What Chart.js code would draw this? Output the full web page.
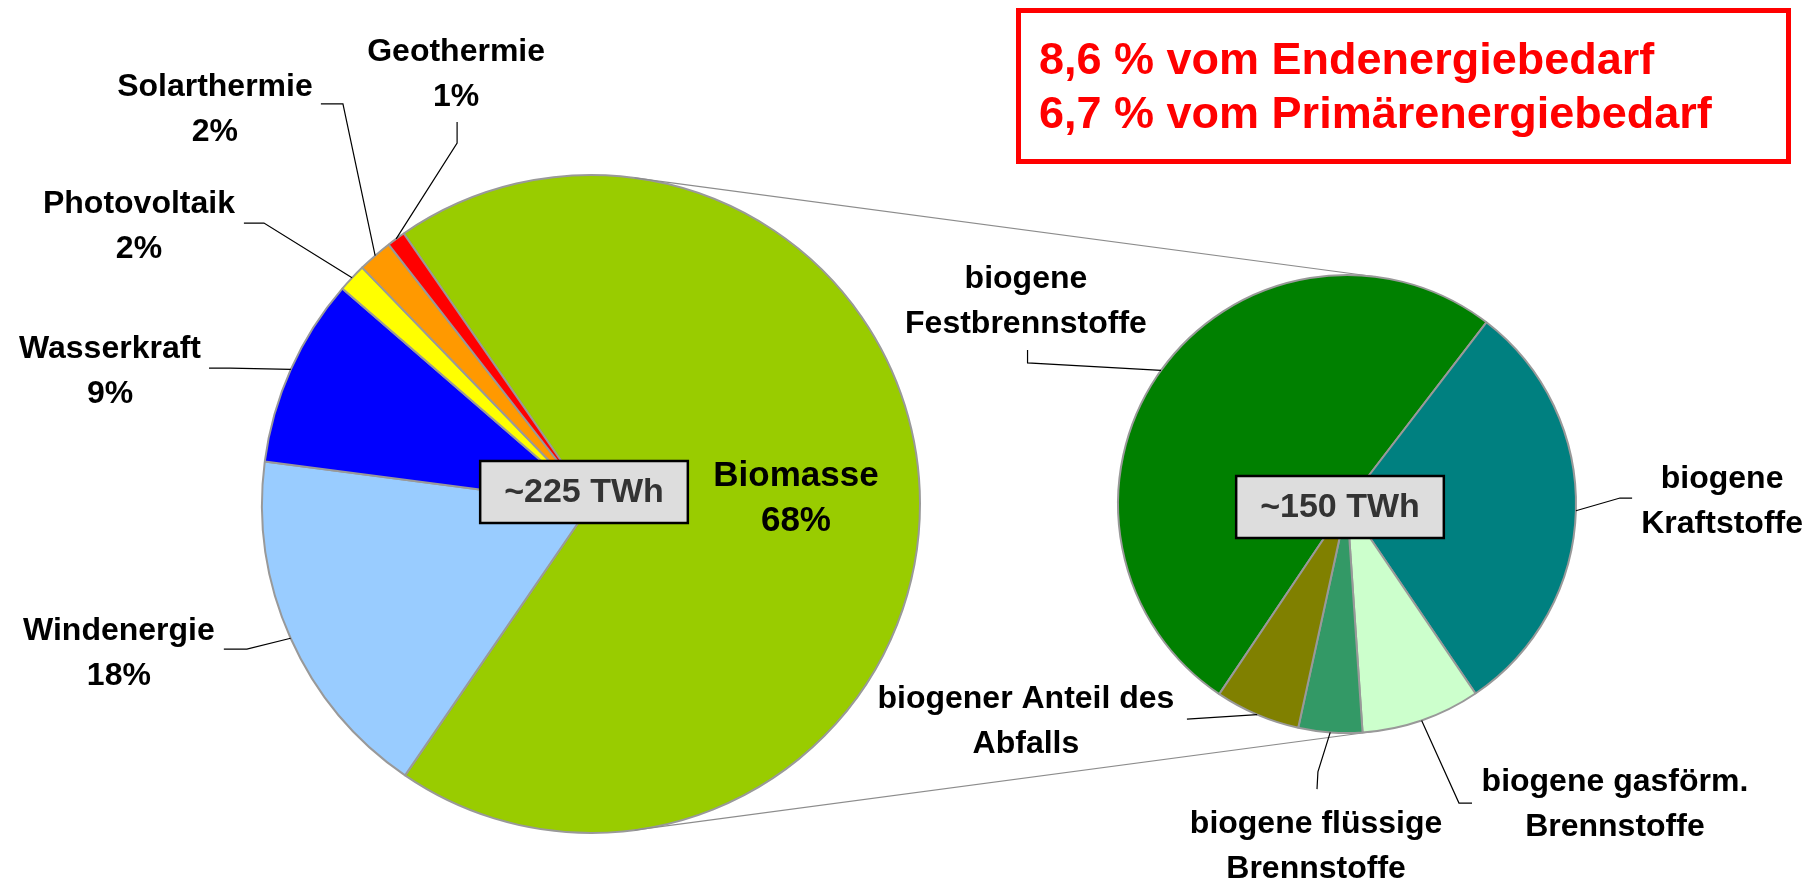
<!DOCTYPE html>
<html>
<head>
<meta charset="utf-8">
<script src="https://cdn.jsdelivr.net/npm/chart.js@4.4.1/dist/chart.umd.min.js"></script>
<style>
  html, body { margin: 0; padding: 0; background: #fff; }
  #wrap { position: relative; width: 1820px; height: 880px; overflow: hidden; background: #fff; }
  #wrap canvas { position: absolute; left: 0; top: 0; }
  #hinweis {
    position: absolute; left: 1016px; top: 8px; width: 775px; height: 156px;
    box-sizing: border-box; border: 5px solid #ff0000; padding: 19px 0 0 18px;
    color: #ff0000; font: bold 45px/54px "Liberation Sans", Arial, sans-serif; white-space: nowrap;
  }
</style>
</head>
<body>
<div id="wrap">
  <canvas id="gesamt" width="1820" height="880"></canvas>
  <canvas id="bio" width="1820" height="880"></canvas>
  <div id="hinweis">8,6 % vom Endenergiebedarf<br>6,7 % vom Primärenergiebedarf</div>
</div>
<script>
// Erneuerbare Energien gesamt (Anteile in %)
const quellen = ['Biomasse', 'Windenergie', 'Wasserkraft', 'Photovoltaik', 'Solarthermie', 'Geothermie'];
const quellenWerte = [69.2, 17.5, 9.3, 1.4, 1.7, 0.9];
const quellenProzent = ['68%', '18%', '9%', '2%', '2%', '1%'];
const quellenFarben = ['#99cc00', '#99ccff', '#0000ff', '#ffff00', '#ff9900', '#ff0000'];
const gesamtText = '~225 TWh';

// Aufteilung der Biomasse (Anteile in %)
const biomasse = [['biogene', 'Festbrennstoffe'], ['biogene', 'Kraftstoffe'], ['biogene gasförm.', 'Brennstoffe'],
                  ['biogene flüssige', 'Brennstoffe'], ['biogener Anteil des', 'Abfalls']];
const biomasseWerte = [51, 30.1, 8.4, 4.5, 6];
const biomasseFarben = ['#008000', '#008080', '#ccffcc', '#339966', '#808000'];
const biomasseText = '~150 TWh';

// Lage der Beschriftungen, in Radien relativ zur Tortenmitte
const platz = {
  gesamt: {
    box: [-7, -12],
    labels: [
      { text: [0.623, -0.016], size: 35 },
      { text: [-1.435, 0.456], elbow: [-1.046, 0.441], end: [-1.116, 0.441] },
      { text: [-1.462, -0.401], elbow: [-1.097, -0.413], end: [-1.161, -0.413] },
      { text: [-1.374, -0.842], elbow: [-0.994, -0.854], end: [-1.055, -0.854] },
      { text: [-1.143, -1.198], elbow: [-0.754, -1.216], end: [-0.821, -1.216] },
      { text: [-0.410, -1.304], elbow: [-0.407, -1.097], end: [-0.407, -1.161] }
    ]
  },
  bio: {
    box: [-7, 3],
    labels: [
      { text: [-1.402, -0.885], elbow: [-1.395, -0.616], end: [-1.395, -0.672] },
      { text: [1.638, -0.011], elbow: [1.192, -0.026], end: [1.245, -0.026] },
      { text: [1.170, 1.312], elbow: [0.489, 1.306], end: [0.546, 1.306] },
      { text: [-0.135, 1.495], elbow: [-0.127, 1.170], end: [-0.131, 1.245] },
      { text: [-1.402, 0.949], elbow: [-0.699, 0.939], end: [-0.699, 0.939] }
    ]
  }
};

const schrift = '"Liberation Sans", Arial, sans-serif';

// Beschriftungen, Führungslinien und TWh-Kasten
const beschriftung = {
  id: 'beschriftung',
  afterDatasetsDraw(chart) {
    const ctx = chart.ctx;
    const lage = platz[chart.canvas.id];
    const arcs = chart.getDatasetMeta(0).data;
    const texte = chart.canvas.id === 'gesamt'
      ? quellen.map((q, i) => [q, quellenProzent[i]])
      : biomasse;
    let cx = 0, cy = 0;
    arcs.forEach((arc, i) => {
      const p = lage.labels[i];
      const r = arc.outerRadius;
      cx = arc.x; cy = arc.y;
      const mitte = (arc.startAngle + arc.endAngle) / 2;
      ctx.save();
      if (p.elbow) {
        ctx.strokeStyle = '#000';
        ctx.lineWidth = 1.2;
        ctx.beginPath();
        ctx.moveTo(cx + r * Math.cos(mitte), cy + r * Math.sin(mitte));
        ctx.lineTo(cx + r * p.elbow[0], cy + r * p.elbow[1]);
        ctx.lineTo(cx + r * p.end[0], cy + r * p.end[1]);
        ctx.stroke();
      }
      ctx.font = 'bold ' + (p.size || 32) + 'px ' + schrift;
      ctx.fillStyle = '#000';
      ctx.textAlign = 'center';
      ctx.textBaseline = 'middle';
      const zeilen = texte[i];
      const tx = cx + r * p.text[0], ty = cy + r * p.text[1];
      zeilen.forEach((t, k) => ctx.fillText(t, tx, ty + (k - (zeilen.length - 1) / 2) * 45));
      ctx.restore();
    });

    // Kasten in der Mitte
    const txt = chart.canvas.id === 'gesamt' ? gesamtText : biomasseText;
    ctx.save();
    ctx.font = 'bold 34px ' + schrift;
    const w = ctx.measureText(txt).width + 48, h = 62;
    const bx = cx + lage.box[0] - w / 2, by = cy + lage.box[1] - h / 2;
    ctx.fillStyle = '#dddddd';
    ctx.fillRect(bx, by, w, h);
    ctx.strokeStyle = '#000';
    ctx.lineWidth = 2.5;
    ctx.strokeRect(bx, by, w, h);
    ctx.fillStyle = '#333333';
    ctx.textAlign = 'center';
    ctx.textBaseline = 'middle';
    ctx.fillText(txt, bx + w / 2, by + h / 2 + 1);
    ctx.restore();
  }
};

function tortenOptionen(rotation, padding) {
  return {
    responsive: false,
    animation: false,
    events: [],
    rotation: rotation,
    layout: { padding: padding },
    plugins: { legend: { display: false }, tooltip: { enabled: false } }
  };
}

const gesamtChart = new Chart(document.getElementById('gesamt'), {
  type: 'pie',
  data: {
    labels: quellen,
    datasets: [{ data: quellenWerte, backgroundColor: quellenFarben, borderColor: '#999999', borderWidth: 2 }]
  },
  options: tortenOptionen(-34.7, { left: 261, right: 899, top: 174, bottom: 46 }),
  plugins: [beschriftung]
});

// Verbindungslinien zwischen den beiden Torten (äußere Tangenten)
const verbinder = {
  id: 'verbinder',
  beforeDatasetsDraw(chart) {
    const a = gesamtChart.getDatasetMeta(0).data[0];
    const b = chart.getDatasetMeta(0).data[0];
    const dx = b.x - a.x, dy = b.y - a.y, d = Math.hypot(dx, dy);
    const ux = dx / d, uy = dy / d;
    const s = (a.outerRadius - b.outerRadius) / d, c = Math.sqrt(1 - s * s);
    const ctx = chart.ctx;
    ctx.save();
    ctx.strokeStyle = '#8c8c8c';
    ctx.lineWidth = 1.2;
    ctx.beginPath();
    [1, -1].forEach(sg => {
      const nx = s * ux - sg * c * uy, ny = s * uy + sg * c * ux;
      ctx.moveTo(a.x + a.outerRadius * nx, a.y + a.outerRadius * ny);
      ctx.lineTo(b.x + b.outerRadius * nx, b.y + b.outerRadius * ny);
    });
    ctx.stroke();
    ctx.restore();
  }
};

new Chart(document.getElementById('bio'), {
  type: 'pie',
  data: {
    labels: biomasse,
    datasets: [{ data: biomasseWerte, backgroundColor: biomasseFarben, borderColor: '#999999', borderWidth: 2 }]
  },
  options: tortenOptionen(-146.1, { left: 1117, right: 243, top: 274, bottom: 146 }),
  plugins: [verbinder, beschriftung]
});
</script>
</body>
</html>
